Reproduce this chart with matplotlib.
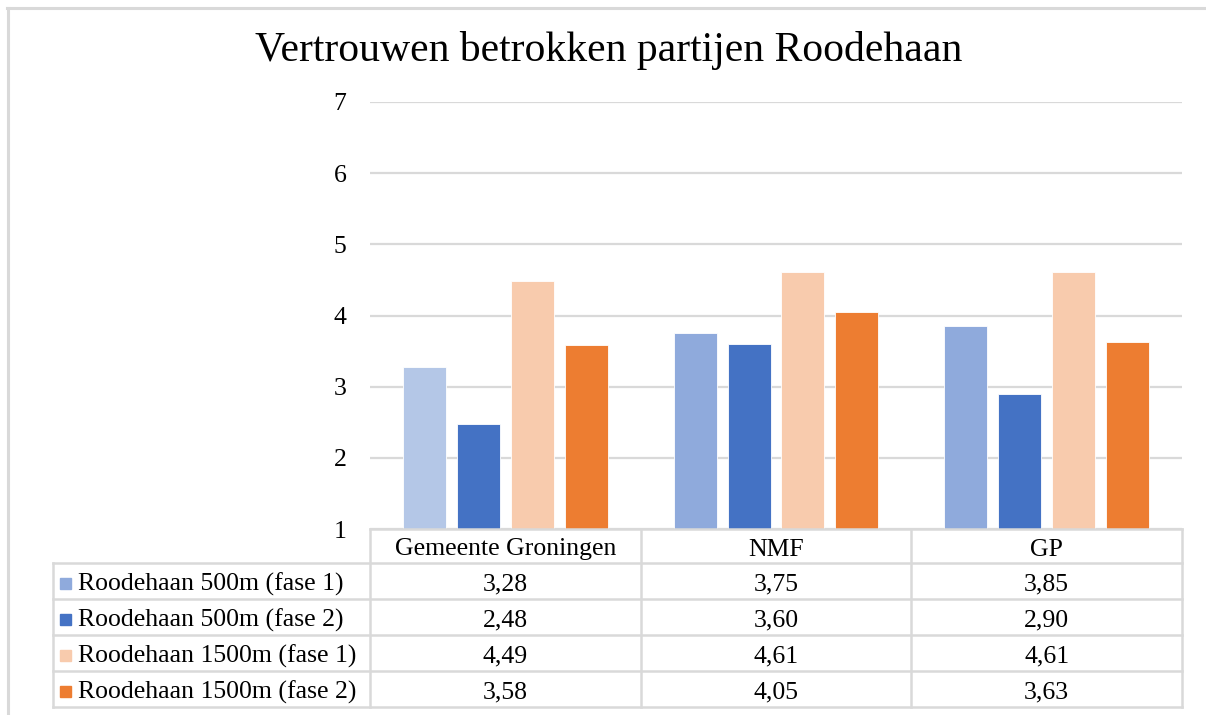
import numpy as np
import matplotlib.pyplot as plt
from matplotlib.lines import Line2D
from matplotlib.patches import Rectangle
import matplotlib.transforms as mtransforms

plt.rcParams['font.family'] = ['Liberation Serif', 'DejaVu Serif']

categories = ["Gemeente Groningen", "NMF", "GP"]
series_names = ["Roodehaan 500m (fase 1)", "Roodehaan 500m (fase 2)",
                "Roodehaan 1500m (fase 1)", "Roodehaan 1500m (fase 2)"]
s500_f1 = [3.28, 3.75, 3.85]
s500_f2 = [2.48, 3.60, 2.90]
s1500_f1 = [4.49, 4.61, 4.61]
s1500_f2 = [3.58, 4.05, 3.63]
series_values = [s500_f1, s500_f2, s1500_f1, s1500_f2]
value_labels = [["3,28", "3,75", "3,85"],
                ["2,48", "3,60", "2,90"],
                ["4,49", "4,61", "4,61"],
                ["3,58", "4,05", "3,63"]]
colors = ["#8faadc", "#4472c4", "#f8cbad", "#ed7d31"]
# first bar of "Gemeente Groningen" is drawn in a lighter shade in the original
bar_colors = [["#b4c7e7", "#8faadc", "#8faadc"], None, None, None]
yticks = [1, 2, 3, 4, 5, 6, 7]

W, H = 1206, 715
fig = plt.figure(figsize=(W / 100, H / 100), dpi=100)
fs = 18.5

# plot area in pixels
left, right, top, bottom = 370, 1182, 102, 529
ax = fig.add_axes([left / W, (H - bottom) / H, (right - left) / W, (bottom - top) / H])

x = np.arange(len(categories))
step = 0.199
width = 0.159
for i, vals in enumerate(series_values):
    c = bar_colors[i] if bar_colors[i] is not None else colors[i]
    ax.bar(x + (i - 1.5) * step, vals, width=width, color=c,
           edgecolor="white", linewidth=0.6, zorder=3)

ax.set_xlim(-0.5, len(categories) - 0.5)
ax.set_ylim(1, 7)
ax.set_yticks(yticks)
ax.set_yticklabels([str(t) for t in yticks], fontsize=fs)
ax.tick_params(axis="y", length=0, pad=17)
ax.set_xticks([])
ax.grid(axis="y", color="#d9d9d9", linewidth=1.6, zorder=0)
for s in ax.spines.values():
    s.set_visible(False)

fig.text(0.5 * (255 + 962) / W, 1 - 51 / H, "Vertrouwen betrokken partijen Roodehaan",
         ha="center", va="center", fontsize=30)

# outer chart border (top and left edges visible)
border = "#d9d9d9"
fig.add_artist(Line2D([7 / W, 1.0], [1 - 7.5 / H, 1 - 7.5 / H], color=border, lw=2.2,
                      transform=fig.transFigure))
fig.add_artist(Line2D([7.5 / W, 7.5 / W], [0, 1 - 7.5 / H], color=border, lw=2.2,
                      transform=fig.transFigure))

# data table below the plot
tr = mtransforms.blended_transform_factory(ax.transData, fig.transFigure)
row_y = [529, 563, 599, 635, 671, 707]
fy = lambda p: 1 - p / H
tab_left = 53
col_edges = [-0.5 + k for k in range(len(categories) + 1)]

# horizontal lines
fig.add_artist(Line2D([col_edges[0], col_edges[-1]], [fy(row_y[0])] * 2, color=border,
                      lw=1.8, transform=tr))
for ry in row_y[1:]:
    fig.add_artist(Line2D([tab_left / W, right / W], [fy(ry)] * 2, color=border,
                          lw=1.8, transform=fig.transFigure))
# vertical lines
fig.add_artist(Line2D([tab_left / W] * 2, [fy(row_y[1]), fy(row_y[-1])], color=border,
                      lw=1.8, transform=fig.transFigure))
for ce in col_edges:
    fig.add_artist(Line2D([ce, ce], [fy(row_y[0]), fy(row_y[-1])], color=border,
                          lw=1.8, transform=tr))

# header
for j, cat in enumerate(categories):
    fig.text(x[j], fy((row_y[0] + row_y[1]) / 2 + 1), cat, transform=tr,
             ha="center", va="center_baseline", fontsize=fs)

# rows
for i, name in enumerate(series_names):
    yc = fy((row_y[i + 1] + row_y[i + 2]) / 2 + 1)
    fig.add_artist(Rectangle((60 / W, yc - 6.5 / H), 11 / W, 11 / H, color=colors[i],
                             transform=fig.transFigure))
    fig.text(78 / W, yc, name, ha="left", va="center_baseline", fontsize=fs)
    for j in range(len(categories)):
        fig.text(x[j], yc, value_labels[i][j], transform=tr,
                 ha="center", va="center_baseline", fontsize=fs)

fig.savefig("out.png", dpi=100, facecolor="white")
